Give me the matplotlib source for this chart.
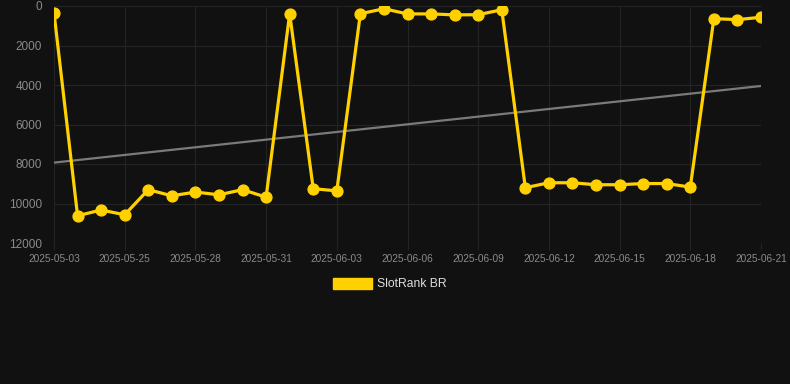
import matplotlib.pyplot as plt
from matplotlib.patches import Patch

# Daily rank values (lower is better)
dates = ["2025-05-03", "2025-05-23", "2025-05-24", "2025-05-25", "2025-05-26",
         "2025-05-27", "2025-05-28", "2025-05-29", "2025-05-30", "2025-05-31",
         "2025-06-01", "2025-06-02", "2025-06-03", "2025-06-04", "2025-06-05",
         "2025-06-06", "2025-06-07", "2025-06-08", "2025-06-09", "2025-06-10",
         "2025-06-11", "2025-06-12", "2025-06-13", "2025-06-14", "2025-06-15",
         "2025-06-16", "2025-06-17", "2025-06-18", "2025-06-19", "2025-06-20",
         "2025-06-21"]
rank = [340, 10620, 10330, 10570, 9300, 9610, 9420, 9560, 9300, 9680,
        390, 9250, 9360, 390, 140, 400, 400, 450, 440, 190,
        9200, 8950, 8950, 9050, 9050, 8990, 8990, 9170, 640, 690,
        570]
# trend line end points
trend = [7930, 4050]

y_ticks = [0, 2000, 4000, 6000, 8000, 10000, 12000]

BG = "#111111"
GOLD = "#FFD100"
GRID = "#242424"
TICK = "#8a8a8a"

plt.rcParams["font.family"] = ["Liberation Sans", "DejaVu Sans"]

fig = plt.figure(figsize=(7.9, 3.84), dpi=100, facecolor=BG)
ax = fig.add_axes([54 / 790, 1 - 243 / 384, (761 - 54) / 790, (243 - 6) / 384])
ax.set_facecolor(BG)

x = list(range(len(dates)))
ax.plot([x[0], x[-1]], trend, color="#7a7a7a", lw=1.6, zorder=2)
ax.plot(x, rank, color=GOLD, lw=2.3, marker="o", ms=7.8, zorder=3)

ax.set_xlim(0, len(dates) - 1)
ax.set_ylim(12000, 0)
ax.set_yticks(y_ticks)
ax.set_yticklabels([str(v) for v in y_ticks], fontsize=8.5, color=TICK)
ax.set_xticks(x[::3])
ax.set_xticklabels(dates[::3], fontsize=7.3, color=TICK)

ax.grid(True, color=GRID, lw=0.8, zorder=0)
ax.tick_params(axis="x", length=5, color=GRID, pad=3)
ax.tick_params(axis="y", length=0, pad=8.5)
for s in ax.spines.values():
    s.set_visible(False)

handle = Patch(facecolor=GOLD, edgecolor=GOLD)
fig.legend([handle], ["SlotRank BR"], loc="center", bbox_to_anchor=(0.494, 1 - 284 / 384),
           frameon=False, fontsize=8.7, labelcolor="#dddddd",
           handlelength=3.2, handleheight=1.0, handletextpad=0.45)

fig.savefig("out.png", dpi=100, facecolor=BG)
